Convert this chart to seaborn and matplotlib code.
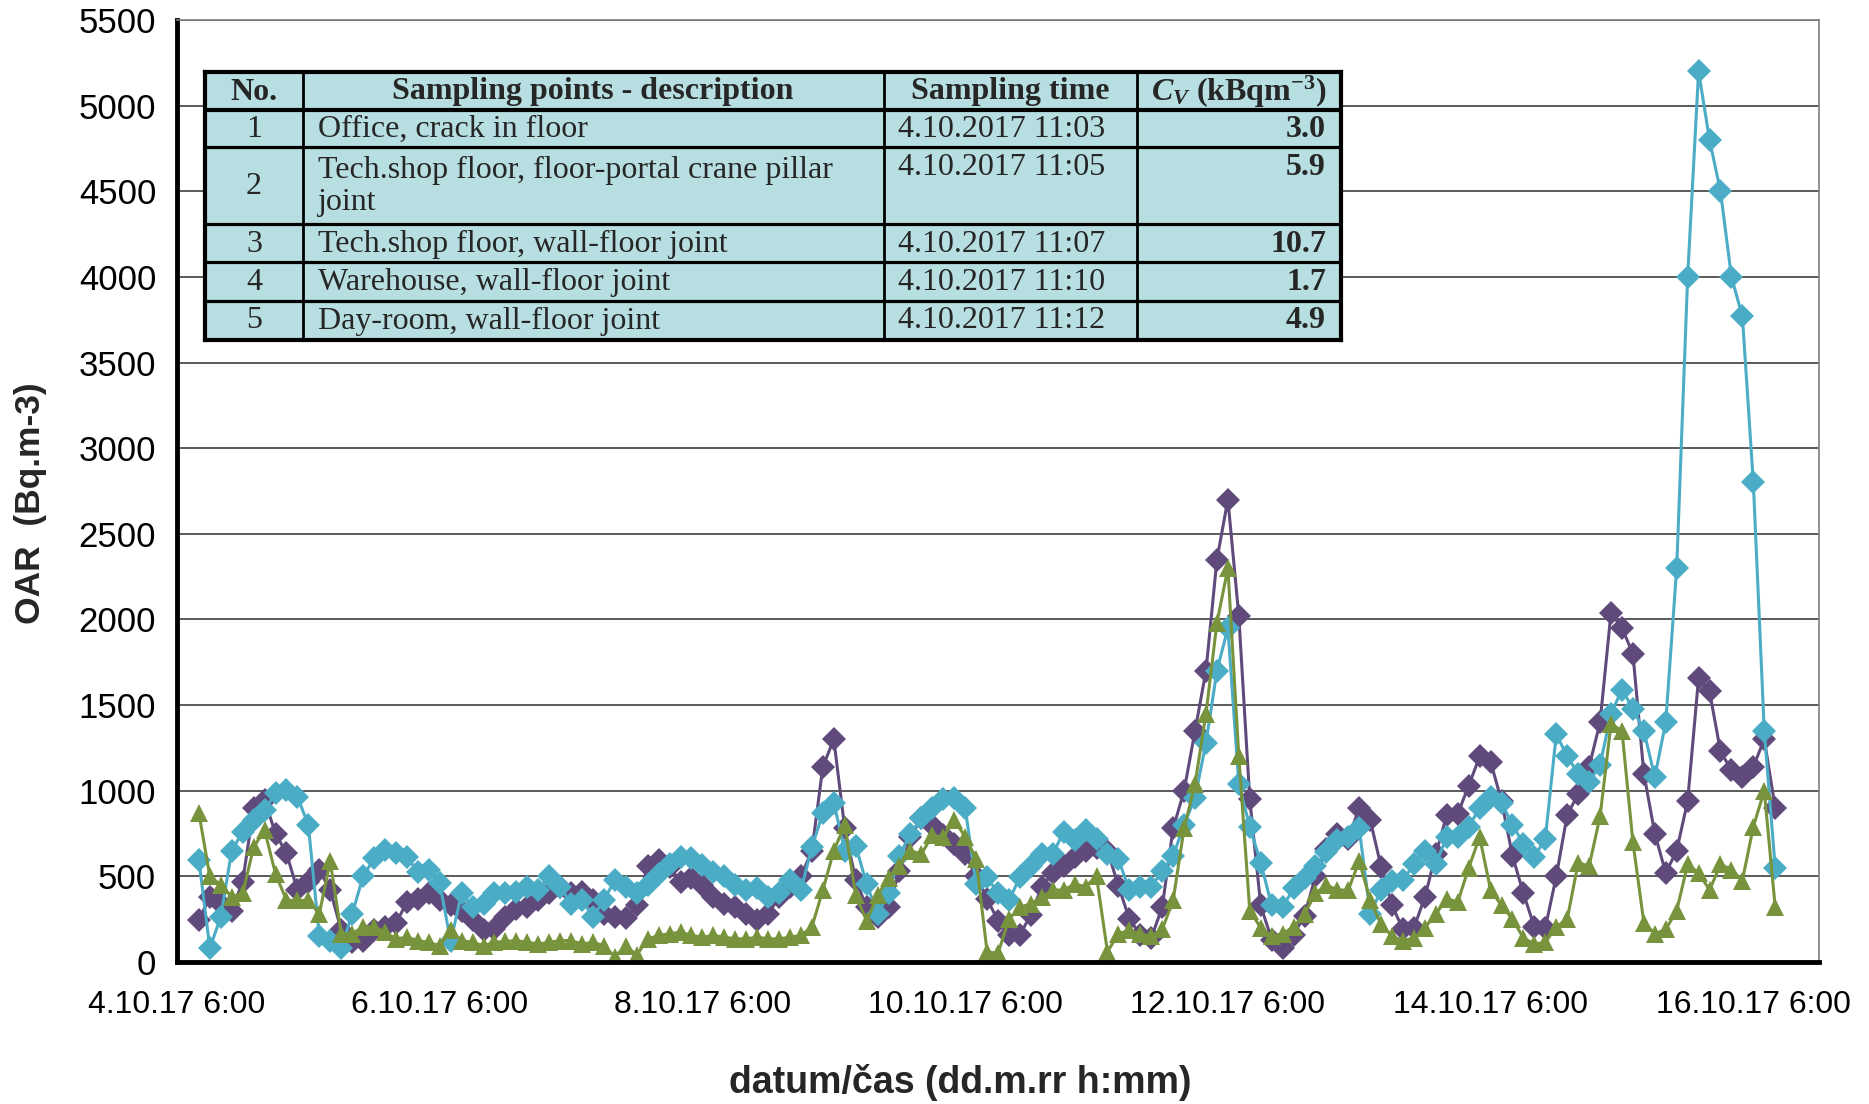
# OAR time series (three monitors) with the sampling-point table on top
import pandas as pd
import seaborn as sns
import matplotlib
matplotlib.use("Agg")
from matplotlib import pyplot as plt
from matplotlib.ticker import MultipleLocator

# values every 2 h from 4.10.2017 10:00, one line = one day (12 values)
oar_purple = [
    245, 380, 340, 300, 470, 900, 945, 750, 635, 420, 470, 535,
    420, 185, 115, 125, 185, 205, 225, 350, 370, 400, 360, 330,
    300, 245, 185, 195, 260, 310, 320, 360, 400, 440, 400, 410,
    360, 280, 265, 255, 330, 560, 595, 555, 470, 490, 450, 380,
    340, 320, 280, 245, 280, 380, 440, 500, 650, 1140, 1300, 780,
    480, 320, 260, 320, 530, 730, 840, 800, 740, 690, 630, 500,
    370, 240, 155, 160, 275, 440, 520, 560, 615, 650, 665, 650,
    445, 250, 160, 140, 320, 780, 1000, 1350, 1700, 2350, 2700, 2020,
    950, 330, 130, 80, 160, 270, 500, 660, 750, 720, 900, 830,
    555, 330, 190, 200, 380, 630, 860, 865, 1030, 1200, 1170, 940,
    620, 400, 205, 200, 500, 860, 980, 1140, 1400, 2040, 1950, 1800,
    1100, 750, 520, 650, 940, 1660, 1580, 1230, 1120, 1080, 1140, 1300,
    900,
]
oar_cyan = [
    595, 80, 265, 650, 760, 830, 890, 985, 1005, 965, 800, 150,
    125, 80, 280, 500, 605, 655, 635, 615, 525, 535, 460, 120,
    400, 320, 340, 400, 400, 410, 440, 420, 500, 440, 340, 360,
    265, 360, 480, 440, 400, 450, 515, 575, 615, 605, 565, 525,
    500, 450, 420, 430, 380, 400, 480, 420, 670, 870, 930, 650,
    680, 455, 280, 400, 620, 750, 840, 900, 950, 960, 900, 455,
    495, 400, 360, 495, 560, 630, 630, 760, 710, 770, 720, 630,
    600, 420, 440, 440, 530, 620, 800, 960, 1280, 1700, 1950, 1040,
    790, 580, 330, 320, 430, 490, 560, 640, 710, 730, 780, 280,
    420, 475, 480, 570, 650, 575, 730, 730, 790, 900, 965, 930,
    800, 690, 615, 720, 1330, 1200, 1100, 1050, 1150, 1450, 1590, 1480,
    1350, 1080, 1400, 2300, 4000, 5200, 4800, 4500, 4000, 3770, 2800, 1350,
    550,
]
oar_green = [
    870, 500, 450, 380, 400, 670, 770, 515, 360, 360, 360, 280,
    590, 165, 165, 205, 205, 175, 135, 145, 125, 115, 95, 185,
    125, 115, 95, 115, 120, 125, 115, 105, 115, 125, 125, 105,
    115, 95, 30, 95, 40, 135, 155, 165, 175, 155, 145, 155,
    145, 135, 135, 145, 135, 135, 145, 155, 205, 420, 650, 800,
    390, 240, 390, 490, 560, 650, 630, 740, 730, 830, 730, 600,
    60, 50, 250, 320, 340, 380, 420, 420, 455, 440, 500, 60,
    165, 185, 165, 150, 190, 360, 780, 1040, 1450, 1980, 2300, 1200,
    300, 200, 150, 165, 205, 280, 400, 450, 420, 420, 590, 360,
    220, 150, 125, 140, 200, 280, 370, 350, 550, 730, 420, 330,
    250, 140, 105, 115, 205, 250, 580, 560, 850, 1390, 1350, 700,
    230, 165, 190, 300, 570, 520, 420, 570, 540, 475, 790, 1000,
    320,
]

# table of sampling points
tab_no = ['1', '2', '3', '4', '5']
tab_desc = ['Office, crack in floor',
            'Tech.shop floor, floor-portal crane pillar\njoint',
            'Tech.shop floor, wall-floor joint',
            'Warehouse, wall-floor joint',
            'Day-room, wall-floor joint']
tab_time = ['4.10.2017 11:03', '4.10.2017 11:05', '4.10.2017 11:07',
            '4.10.2017 11:10', '4.10.2017 11:12']
tab_cv = ['3.0', '5.9', '10.7', '1.7', '4.9']

time = pd.date_range('2017-10-04 10:00', periods=len(oar_purple), freq='2h')

sns.set_style('white')
plt.rcParams['font.family'] = ['Liberation Sans', 'DejaVu Sans']
plt.rcParams['mathtext.fontset'] = 'custom'
plt.rcParams['mathtext.it'] = 'Liberation Serif:italic:bold'
plt.rcParams['mathtext.rm'] = 'Liberation Serif:bold'
plt.rcParams['mathtext.bf'] = 'Liberation Serif:bold'

W, H = 1869, 1104
fig = plt.figure(figsize=(W / 100, H / 100), dpi=100)
ax = fig.add_axes([177 / W, 1 - 962 / H, (1819 - 177) / W, (962 - 20) / H])

series = [(oar_purple, '#604A7B', 'D', 12.5),
          (oar_cyan, '#4BACC6', 'D', 12.5),
          (oar_green, '#77933C', '^', 13)]
for vals, col, mk, ms in series:
    sns.lineplot(x=time, y=vals, color=col, marker=mk, markersize=ms,
                 markeredgecolor=col, markeredgewidth=0, linewidth=2.2, ax=ax)

# axes
ax.set_ylim(0, 5500)
ax.yaxis.set_major_locator(MultipleLocator(500))
ax.set_xlim(pd.Timestamp('2017-10-04 06:00'), pd.Timestamp('2017-10-16 18:00'))
major = pd.date_range('2017-10-04 06:00', '2017-10-16 06:00', freq='48h')
minor = pd.date_range('2017-10-04 06:00', '2017-10-16 18:00', freq='12h')
ax.set_xticks(major)
ax.set_xticks(minor, minor=True)
ax.set_xticklabels([f'{t.day}.{t.month}.{t:%y} {t.hour}:{t:%M}' for t in major])

ax.yaxis.grid(True, color='#2e2e2e', linewidth=1.1)
ax.set_axisbelow(True)
for s in ['left', 'bottom']:
    ax.spines[s].set_color('black')
    ax.spines[s].set_linewidth(3.5)
for s in ['top', 'right']:
    ax.spines[s].set_color('#7f7f7f')
    ax.spines[s].set_linewidth(1.2)

ax.tick_params(axis='x', which='major', direction='inout', length=16, width=3.5,
               labelsize=23, pad=12, colors='black')
ax.tick_params(axis='x', which='minor', direction='in', length=7, width=2.5,
               colors='black')
ax.tick_params(axis='y', which='major', direction='inout', length=8, width=2.5,
               labelsize=25, pad=11, colors='black')

ax.set_xlabel('datum/čas (dd.m.rr h:mm)', fontsize=27, fontweight='bold', va='center')
ax.set_ylabel('OAR  (Bq.m-3)', fontsize=25.5, fontweight='bold', va='center')
ax.xaxis.set_label_coords(0.477, -0.128)
ax.yaxis.set_label_coords(-0.0895, 0.487)

# table in pixel coordinates of the original
tab = fig.add_axes([205 / W, 1 - 340 / H, (1341 - 205) / W, (340 - 71.7) / H])
tab.set_xlim(205, 1341)
tab.set_ylim(340, 71.7)
tab.set_facecolor('#B7DEE1')
tab.set_xticks([])
tab.set_yticks([])
for s in tab.spines.values():
    s.set_color('black')
    s.set_linewidth(3)
for y in [110, 147.3, 224, 262.3, 300.7]:
    tab.axhline(y, color='black', lw=2.3 if y > 111 else 3)
for x in [303, 884, 1137]:
    tab.axvline(x, color='black', lw=2)

serif = 'Liberation Serif'
fs = 23
tab.text(254, 92, 'No.', ha='center', va='center', fontsize=fs, family=serif, fontweight='bold')
tab.text(593, 92, 'Sampling points - description', ha='center', va='center',
         fontsize=fs, family=serif, fontweight='bold')
tab.text(1010, 92, 'Sampling time', ha='center', va='center', fontsize=fs,
         family=serif, fontweight='bold')
tab.text(1239, 92, r'$C_V$ (kBqm$^{-3}$)', ha='center', va='center', fontsize=fs,
         family=serif, fontweight='bold')

row_y = [129.5, 186.5, 244, 282.5, 321]
top_y = [129.5, 167.5, 244, 282.5, 321]
for i in range(len(tab_no)):
    tab.text(254, row_y[i], tab_no[i], ha='center', va='center', fontsize=fs, family=serif)
    tab.text(318, row_y[i], tab_desc[i], ha='left', va='center', fontsize=fs,
             family=serif, linespacing=1.17)
    tab.text(898, top_y[i], tab_time[i], ha='left', va='center', fontsize=fs, family=serif)
    tab.text(1326, top_y[i], tab_cv[i], ha='right', va='center', fontsize=fs,
             family=serif, fontweight='bold')

fig.savefig('out.png', dpi=100)
